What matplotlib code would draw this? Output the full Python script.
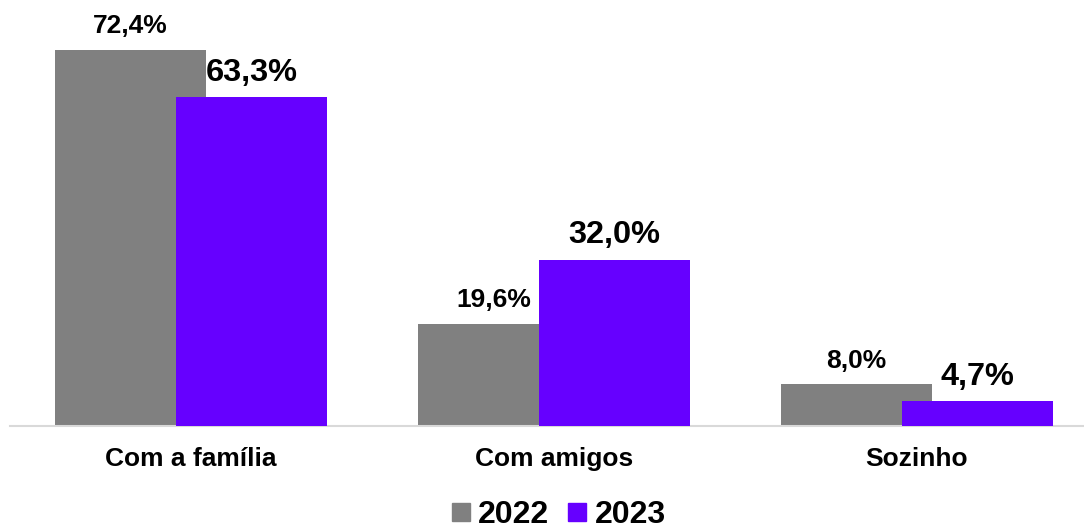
import matplotlib
matplotlib.use("Agg")
import matplotlib.pyplot as plt
from matplotlib.lines import Line2D
import numpy as np

categories = ["Com a família", "Com amigos", "Sozinho"]
series_names = ["2022", "2023"]
values_2022 = [72.4, 19.6, 8.0]
values_2023 = [63.3, 32.0, 4.7]
labels_2022 = ["72,4%", "19,6%", "8,0%"]
labels_2023 = ["63,3%", "32,0%", "4,7%"]

GRAY = "#808080"
PURPLE = "#6600FF"
plt.rcParams['font.family'] = ['Liberation Sans', 'DejaVu Sans']

W, H = 1084, 529
fig = plt.figure(figsize=(W / 100, H / 100), dpi=100)
ax_left = 9.5 / W
ax_w = 1089 / W
ax_bottom = (H - 425.7) / H
ax_h = 80 * 5.19 / H
ax = fig.add_axes([ax_left, ax_bottom, ax_w, ax_h])

x = np.arange(len(categories))
bw = 0.416
off = 0.1667
ax.bar(x - off, values_2022, width=bw, color=GRAY, zorder=2)
ax.bar(x + off, values_2023, width=bw, color=PURPLE, zorder=3)

for xi, v, lab in zip(x, values_2022, labels_2022):
    ax.annotate(lab, (xi - off, v), xytext=(0, 12), textcoords="offset points",
                ha="center", va="baseline", fontsize=19, fontweight="bold", color="black")
for xi, v, lab in zip(x, values_2023, labels_2023):
    ax.annotate(lab, (xi + off, v), xytext=(0, 12), textcoords="offset points",
                ha="center", va="baseline", fontsize=23.4, fontweight="bold", color="black")

ax.set_xlim(-0.5, len(categories) - 0.5)
ax.set_ylim(0, 80)
ax.set_yticks([])
ax.set_xticks(x)
ax.set_xticklabels(categories, fontsize=19, fontweight="bold")
ax.tick_params(axis="x", length=0, pad=15.5)
for s in ["top", "right", "left"]:
    ax.spines[s].set_visible(False)
ax.spines["bottom"].set_color("#d9d9d9")
ax.spines["bottom"].set_linewidth(1.5)
ax.patch.set_alpha(0)

handles = [Line2D([], [], marker="s", linestyle="none", markersize=12.5, color=c)
           for c in (GRAY, PURPLE)]
fig.legend(handles, series_names, loc="center", bbox_to_anchor=(559 / W, 1 - 515 / H),
           ncol=2, frameon=False, prop={"weight": "bold", "size": 23},
           handlelength=0.55, handletextpad=0.28, columnspacing=0.6, borderpad=0)

fig.savefig("out.png", dpi=100)
